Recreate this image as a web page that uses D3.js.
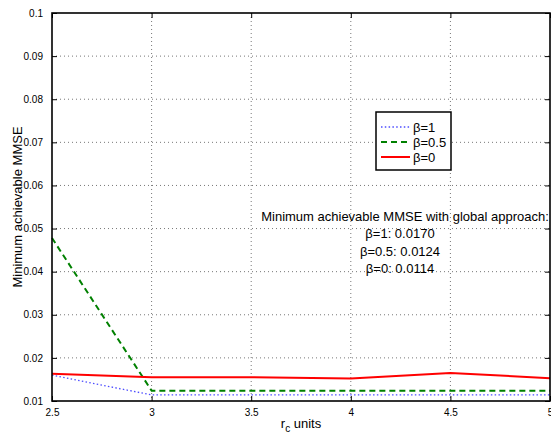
<!DOCTYPE html>
<meta charset="utf-8">
<style>
  body { margin: 0; background: #fff; }
  text { font-family: 'Liberation Sans', Arial, sans-serif; fill: #000; }
</style>
<svg width="551" height="438"></svg>
<script src="https://d3js.org/d3.v7.min.js"></script>
<script>
var rc = [2.5, 3, 3.5, 4, 4.5, 5];
var beta1 = [0.0160, 0.0114, 0.0114, 0.0114, 0.0114, 0.0114];
var beta05 = [0.0478, 0.0124, 0.0124, 0.0124, 0.0124, 0.0124];
var beta0 = [0.0163, 0.0155, 0.0155, 0.0152, 0.0165, 0.0153];
var xTicks = [2.5, 3, 3.5, 4, 4.5, 5];
var yTicks = [0.01, 0.02, 0.03, 0.04, 0.05, 0.06, 0.07, 0.08, 0.09, 0.1];
var legendLabels = ["\u03b2=1", "\u03b2=0.5", "\u03b2=0"];
var noteLines = ["Minimum achievable MMSE with global approach:",
  "\u03b2=1: 0.0170", "\u03b2=0.5: 0.0124", "\u03b2=0: 0.0114"];

var svg = d3.select("svg"),
    margin = {top: 13, right: 1, bottom: 37, left: 52},
    width = +svg.attr("width") - margin.left - margin.right,
    height = +svg.attr("height") - margin.top - margin.bottom,
    g = svg.append("g").attr("transform", "translate(" + margin.left + "," + margin.top + ")");

var x = d3.scaleLinear().domain([2.5, 5]).range([0, width]);
var y = d3.scaleLinear().domain([0.01, 0.1]).range([height, 0]);

// dotted grid
g.append("g").selectAll("line").data(xTicks.slice(1, -1)).enter().append("line")
    .attr("x1", x).attr("x2", x).attr("y1", 0).attr("y2", height)
    .attr("stroke", "#777").attr("stroke-dasharray", "1,3");
g.append("g").selectAll("line").data(yTicks.slice(1, -1)).enter().append("line")
    .attr("y1", y).attr("y2", y).attr("x1", 0).attr("x2", width)
    .attr("stroke", "#777").attr("stroke-dasharray", "1,3");

var series = [
  {vals: beta1, color: "#4d4dff", width: 1.3, dash: "1.5,2.3"},
  {vals: beta05, color: "#008000", width: 2, dash: "6,4"},
  {vals: beta0, color: "#ff0000", width: 2, dash: null}
];

var line = d3.line()
    .x(function(d, i) { return x(rc[i]); })
    .y(function(d) { return y(d); });

series.forEach(function(s) {
  g.append("path")
      .datum(s.vals)
      .attr("fill", "none")
      .attr("stroke", s.color)
      .attr("stroke-width", s.width)
      .attr("stroke-dasharray", s.dash)
      .attr("d", line);
});

// axes, ticks inward, mirrored on top and right
var fmt = function(d) { return d3.format("")(+d.toFixed(2)); };
g.append("g")
    .attr("transform", "translate(0," + height + ")")
    .call(d3.axisBottom(x).tickValues(xTicks).tickSize(-5).tickPadding(8).tickFormat(fmt));
g.append("g")
    .call(d3.axisTop(x).tickValues(xTicks).tickSize(-5).tickFormat(""));
g.append("g")
    .call(d3.axisLeft(y).tickValues(yTicks).tickSize(-5).tickPadding(9).tickFormat(fmt));
g.append("g")
    .attr("transform", "translate(" + width + ",0)")
    .call(d3.axisRight(y).tickValues(yTicks).tickSize(-5).tickFormat(""));

g.selectAll(".domain").remove();
g.selectAll(".tick line").attr("stroke", "#000");
g.selectAll(".tick text").style("font-size", "10px").style("font-family", "'Liberation Sans', Arial, sans-serif");

g.append("rect")
    .attr("width", width).attr("height", height)
    .attr("fill", "none").attr("stroke", "#000").attr("stroke-width", 1.6);

// legend
var lg = svg.append("g").attr("transform", "translate(376,112)");
lg.append("rect").attr("width", 75).attr("height", 58)
    .attr("fill", "#fff").attr("stroke", "#000").attr("stroke-width", 1.5);
series.forEach(function(s, i) {
  var yy = 15 + i * 15;
  lg.append("line").attr("x1", 5).attr("x2", 34).attr("y1", yy).attr("y2", yy)
      .attr("stroke", s.color).attr("stroke-width", s.width)
      .attr("stroke-dasharray", s.dash);
  lg.append("text").attr("x", 37).attr("y", yy + 4.5)
      .style("font-size", "13px").text(legendLabels[i]);
});

// annotation
svg.append("g").selectAll("text").data(noteLines).enter().append("text")
    .attr("x", function(d, i) { return i === 0 ? 405 : 400; })
    .attr("y", function(d, i) { return 220.5 + i * 17.5; })
    .attr("text-anchor", "middle")
    .style("font-size", "13px")
    .text(function(d) { return d; });

// axis labels
svg.append("text")
    .attr("transform", "translate(22," + (margin.top + height / 2) + ") rotate(-90)")
    .attr("text-anchor", "middle")
    .style("font-size", "13px")
    .text("Minimum achievable MMSE");

var xl = svg.append("text")
    .attr("x", margin.left + width / 2)
    .attr("y", 428)
    .attr("text-anchor", "middle")
    .style("font-size", "13px");
xl.append("tspan").text("r");
xl.append("tspan").attr("dy", 4).style("font-size", "10px").text("c");
xl.append("tspan").attr("dy", -4).text(" units");
</script>
